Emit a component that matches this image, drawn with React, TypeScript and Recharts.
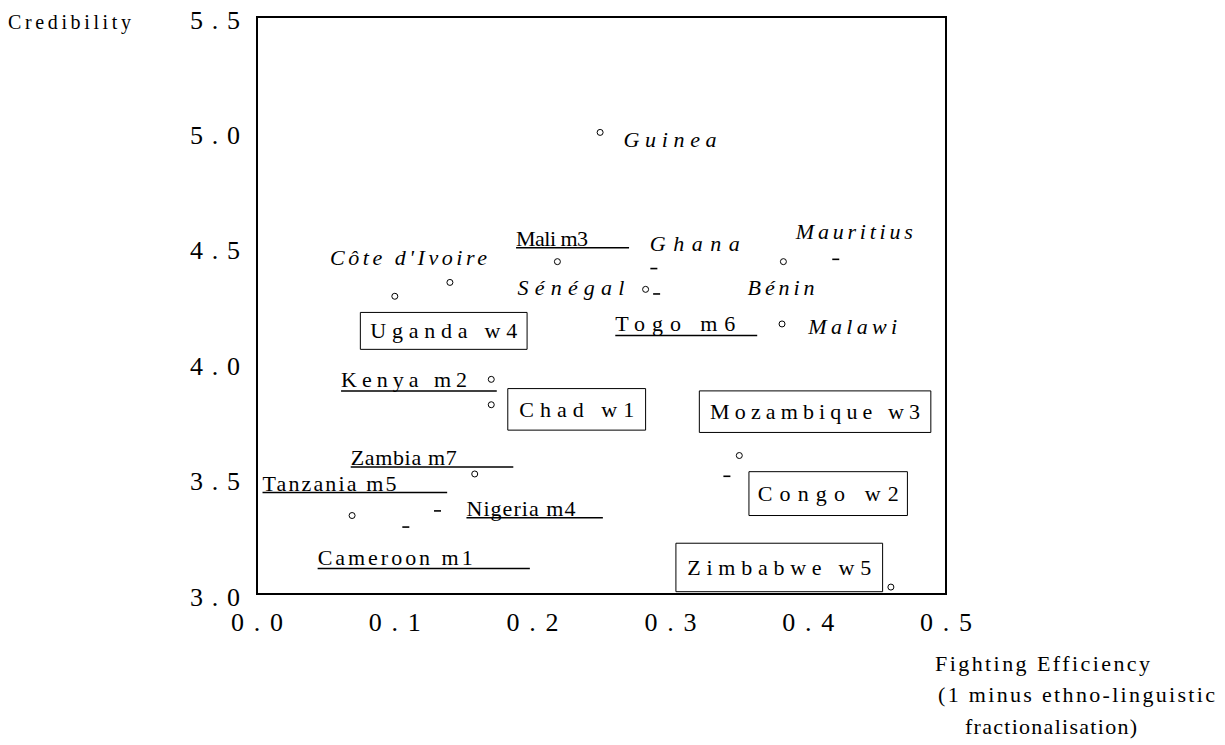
import React from 'react';
import { ScatterChart, Scatter, XAxis, YAxis, ReferenceArea, ReferenceLine, ReferenceDot } from 'recharts';

// ---- data ----
const circleCountries = ['Guinea', 'Mali', "Côte d'Ivoire", 'Uganda', 'Sénégal', 'Bénin', 'Malawi', 'Kenya', 'Chad', 'Zambia', 'Tanzania', 'Mozambique', 'Zimbabwe'];
const circleEfficiency = [0.249, 0.218, 0.140, 0.100, 0.282, 0.382, 0.381, 0.170, 0.170, 0.158, 0.069, 0.350, 0.460];
const circleCredibility = [5.00, 4.44, 4.35, 4.29, 4.32, 4.44, 4.17, 3.93, 3.82, 3.52, 3.34, 3.60, 3.03];

const dashCountries = ['Ghana a', 'Ghana b', 'Mauritius', 'Congo', 'Nigeria a', 'Nigeria b'];
const dashEfficiency = [0.288, 0.290, 0.420, 0.341, 0.131, 0.108];
const dashCredibility = [4.41, 4.30, 4.45, 3.51, 3.36, 3.29];

const xTicks = [0, 0.1, 0.2, 0.3, 0.4, 0.5];
const yTicks = [3.0, 3.5, 4.0, 4.5, 5.0, 5.5];

// ---- annotation layout (data-space anchors) ----
const italicLabels = [
  { text: 'Guinea', x: 0.266, y: 4.97, w: 93 },
  { text: "Côte d'Ivoire", x: 0.053, y: 4.46, w: 157 },
  { text: 'Ghana', x: 0.285, y: 4.52, w: 90 },
  { text: 'Mauritius', x: 0.391, y: 4.57, w: 117 },
  { text: 'Sénégal', x: 0.189, y: 4.33, w: 107 },
  { text: 'Bénin', x: 0.356, y: 4.33, w: 67 },
  { text: 'Malawi', x: 0.400, y: 4.16, w: 89 },
];
const underlinedLabels = [
  { text: 'Mali m3', x: 0.188, y: 4.54, w: 72, x2: 0.270, ly: 4.50 },
  { text: 'Togo m6', x: 0.260, y: 4.17, w: 120, x2: 0.363, ly: 4.12 },
  { text: 'Kenya m2', x: 0.061, y: 3.93, w: 126, x2: 0.174, ly: 3.88 },
  { text: 'Zambia m7', x: 0.068, y: 3.59, w: 106, x2: 0.186, ly: 3.55 },
  { text: 'Tanzania m5', x: 0.004, y: 3.48, w: 134, x2: 0.138, ly: 3.44 },
  { text: 'Nigeria m4', x: 0.152, y: 3.37, w: 109, x2: 0.251, ly: 3.33 },
  { text: 'Cameroon m1', x: 0.044, y: 3.16, w: 155, x2: 0.198, ly: 3.11 },
];
const boxedLabels = [
  { text: 'Uganda w4', x1: 0.075, x2: 0.196, y1: 4.06, y2: 4.22, w: 147 },
  { text: 'Chad w1', x1: 0.182, x2: 0.282, y1: 3.71, y2: 3.89, w: 115 },
  { text: 'Mozambique w3', x1: 0.321, x2: 0.489, y1: 3.70, y2: 3.88, w: 210 },
  { text: 'Congo w2', x1: 0.357, x2: 0.472, y1: 3.34, y2: 3.53, w: 141 },
  { text: 'Zimbabwe w5', x1: 0.304, x2: 0.454, y1: 3.01, y2: 3.22, w: 184 },
];

const circleData = circleCountries.map((name, i) => ({ name, x: circleEfficiency[i], y: circleCredibility[i] }));
const dashData = dashCountries.map((name, i) => ({ name, x: dashEfficiency[i], y: dashCredibility[i] }));

const FONT = "'Liberation Serif', 'Times New Roman', 'DejaVu Serif', serif";
const fs = (size: number, italic = false): React.CSSProperties => ({
  fontFamily: FONT,
  fontSize: size,
  fontStyle: italic ? 'italic' : 'normal',
});

const CircleMark = (p: any) => <circle cx={p.cx} cy={p.cy} r={3} fill="#fff" stroke="#000" strokeWidth={1} />;
const DashMark = (p: any) => <line x1={p.cx - 3.5} x2={p.cx + 3.5} y1={p.cy} y2={p.cy} stroke="#000" strokeWidth={1.6} />;

const XTick = (p: any) => (
  <text x={p.x} y={p.y} textAnchor="middle" dominantBaseline="central" style={fs(26)} fill="#000"
    textLength={52} lengthAdjust="spacing">
    {Number(p.payload.value).toFixed(1)}
  </text>
);
const YTick = (p: any) => (
  <text x={p.x} y={p.y + 3} textAnchor="end" dominantBaseline="central" style={fs(26)} fill="#000"
    textLength={50} lengthAdjust="spacing">
    {Number(p.payload.value).toFixed(1)}
  </text>
);

const textShape = (text: string, w: number, italic: boolean, anchor: 'start' | 'middle') => (p: any) => (
  <text x={p.cx} y={p.cy} textAnchor={anchor} dominantBaseline="central" style={fs(22, italic)}
    fill="#000" textLength={w} lengthAdjust="spacing">
    {text}
  </text>
);

export default function App() {
  return (
    <div style={{ position: 'absolute', left: 0, top: 0, width: 1225, height: 745, background: '#fff' }}>
      <ScatterChart width={1225} height={745} margin={{ top: 17, right: 279, bottom: 111, left: 197 }}>
        <XAxis type="number" dataKey="x" domain={[0, 0.5]} ticks={xTicks} axisLine={false} tickLine={false}
          tickSize={0} tickMargin={28} height={40} tick={<XTick />} allowDataOverflow />
        <YAxis type="number" dataKey="y" domain={[3, 5.5]} ticks={yTicks} axisLine={false} tickLine={false}
          tickSize={0} tickMargin={17} width={60} tick={<YTick />} allowDataOverflow />
        <ReferenceArea x1={0} x2={0.5} y1={3} y2={5.5} fill="none" fillOpacity={0} stroke="#000" strokeWidth={2} />
        {boxedLabels.map((b) => (
          <ReferenceArea key={'box' + b.text} x1={b.x1} x2={b.x2} y1={b.y1} y2={b.y2} fill="#fff" fillOpacity={1}
            stroke="#000" strokeWidth={1} />
        ))}
        {underlinedLabels.map((u) => (
          <ReferenceLine key={'ul' + u.text} segment={[{ x: u.x, y: u.ly }, { x: u.x2, y: u.ly }]} stroke="#000" strokeWidth={1.5} />
        ))}
        <Scatter data={circleData} isAnimationActive={false} shape={CircleMark} />
        <Scatter data={dashData} isAnimationActive={false} shape={DashMark} />
        {italicLabels.map((l) => (
          <ReferenceDot key={'it' + l.text} x={l.x} y={l.y} r={0} shape={textShape(l.text, l.w, true, 'start')} />
        ))}
        {underlinedLabels.map((l) => (
          <ReferenceDot key={'ut' + l.text} x={l.x} y={l.y} r={0} shape={textShape(l.text, l.w, false, 'start')} />
        ))}
        {boxedLabels.map((b) => (
          <ReferenceDot key={'bt' + b.text} x={(b.x1 + b.x2) / 2} y={(b.y1 + b.y2) / 2} r={0}
            shape={textShape(b.text, b.w, false, 'middle')} />
        ))}
      </ScatterChart>
      <svg width={1225} height={745} style={{ position: 'absolute', left: 0, top: 0, pointerEvents: 'none' }}>
        <text x={8} y={22} dominantBaseline="central" style={fs(20)} fill="#000" textLength={123} lengthAdjust="spacing">Credibility</text>
        <text x={935} y={663} dominantBaseline="central" style={fs(22)} fill="#000" textLength={215} lengthAdjust="spacing">Fighting Efficiency</text>
        <text x={938} y={694} dominantBaseline="central" style={fs(22)} fill="#000" textLength={277} lengthAdjust="spacing">(1 minus ethno-linguistic</text>
        <text x={965} y={726} dominantBaseline="central" style={fs(22)} fill="#000" textLength={172} lengthAdjust="spacing">fractionalisation)</text>
      </svg>
    </div>
  );
}
